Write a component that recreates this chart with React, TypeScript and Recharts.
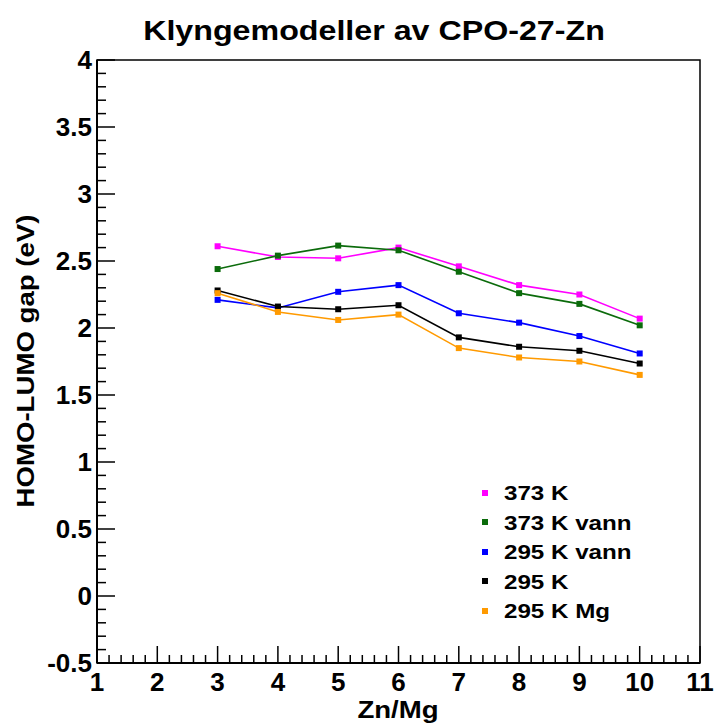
import { LineChart, Line, XAxis, YAxis, ReferenceArea } from 'recharts'

// Zn/Mg ratio for each cluster model
const zn = [3, 4, 5, 6, 7, 8, 9, 10]

// HOMO-LUMO gap (eV)
const k373 = [2.61, 2.53, 2.52, 2.6, 2.46, 2.32, 2.25, 2.07]
const k373vann = [2.44, 2.54, 2.615, 2.58, 2.42, 2.26, 2.18, 2.02]
const k295vann = [2.21, 2.15, 2.27, 2.32, 2.11, 2.04, 1.94, 1.81]
const k295 = [2.28, 2.16, 2.14, 2.17, 1.93, 1.86, 1.83, 1.735]
const k295mg = [2.26, 2.12, 2.06, 2.1, 1.85, 1.78, 1.75, 1.65]

const xTicks = Array.from({ length: 51 }, (_, i) => Math.round((1 + i * 0.2) * 10) / 10)
const yTicks = Array.from({ length: 46 }, (_, i) => Math.round((-0.5 + i * 0.1) * 10) / 10)

const series = [
    { key: 'k373', name: '373 K', color: '#ff00ff', values: k373 },
    { key: 'k373vann', name: '373 K vann', color: '#0b6b0b', values: k373vann },
    { key: 'k295vann', name: '295 K vann', color: '#0000ff', values: k295vann },
    { key: 'k295', name: '295 K', color: '#000000', values: k295 },
    { key: 'k295mg', name: '295 K Mg', color: '#ff9a00', values: k295mg },
]

const data = zn.map((x, i) => {
    const row: any = { zn: x }
    series.forEach(s => { row[s.key] = s.values[i] })
    return row
})

const FONT = '"Liberation Sans", Arial, Helvetica, sans-serif'
const SX = 1.15

const isMajor = (v: number, step: number) => Math.abs(v / step - Math.round(v / step)) < 1e-6

const XTick = ({ x, y, payload }: any) => {
    const v = payload.value
    const major = isMajor(v, 1)
    return (
        <g>
            <line x1={x} x2={x} y1={y} y2={y - (major ? 17 : 8)} stroke="#000" strokeWidth={1.5} />
            {major && (
                <text x={x} y={y + 28} textAnchor="middle" fontSize={26} fontWeight="bold" fontFamily={FONT} fill="#000">
                    {Math.round(v)}
                </text>
            )}
        </g>
    )
}

const YTick = ({ x, y, payload }: any) => {
    const v = payload.value
    const major = isMajor(v, 0.5)
    return (
        <g>
            <line x1={x} x2={x + (major ? 18 : 9)} y1={y} y2={y} stroke="#000" strokeWidth={1.5} />
            {major && (
                <text x={x - 5} y={y} dy="0.36em" textAnchor="end" fontSize={26} fontWeight="bold" fontFamily={FONT} fill="#000">
                    {String(v)}
                </text>
            )}
        </g>
    )
}

const SquareDot = (props: any) => {
    const { cx, cy, stroke, index } = props
    if (cx == null || cy == null) return <g key={index} />
    return <rect key={index} x={cx - 3} y={cy - 3} width={6} height={6} fill={stroke} />
}

const textStyle = {
    position: 'absolute' as const,
    fontFamily: FONT,
    fontWeight: 'bold' as const,
    color: '#000',
    whiteSpace: 'nowrap' as const,
    lineHeight: 1,
}

export default function App() {
    return (
        <div style={{ position: 'absolute', left: 0, top: 0, width: 717, height: 724, background: '#fff' }}>
            <LineChart width={717} height={724} data={data} margin={{ top: 60, right: 17, left: 37, bottom: 31 }}>
                <XAxis
                    dataKey="zn"
                    type="number"
                    domain={[1, 11]}
                    ticks={xTicks}
                    interval={0}
                    height={30}
                    tickSize={0}
                    tickMargin={0}
                    tick={<XTick />}
                    axisLine={{ stroke: '#000', strokeWidth: 2 }}
                    tickLine={false}
                />
                <YAxis
                    type="number"
                    domain={[-0.5, 4]}
                    ticks={yTicks}
                    interval={0}
                    width={60}
                    tickSize={0}
                    tickMargin={0}
                    tick={<YTick />}
                    axisLine={{ stroke: '#000', strokeWidth: 2 }}
                    tickLine={false}
                />
                <ReferenceArea x1={1} x2={11} y1={-0.5} y2={4} fill="none" stroke="#000" strokeWidth={1.5} ifOverflow="visible" />
                {series.map(s => (
                    <Line
                        key={s.key}
                        dataKey={s.key}
                        name={s.name}
                        type="linear"
                        stroke={s.color}
                        strokeWidth={1.6}
                        dot={SquareDot}
                        activeDot={false}
                        isAnimationActive={false}
                    />
                ))}
            </LineChart>

            {/* Title */}
            <div style={{ ...textStyle, left: 374, top: 17, fontSize: 28, transform: `translateX(-50%) scaleX(${SX})` }}>
                Klyngemodeller av CPO-27-Zn
            </div>

            {/* Axis titles */}
            <div style={{ ...textStyle, left: 398, top: 698, fontSize: 24, transform: `translateX(-50%) scaleX(${SX})` }}>
                Zn/Mg
            </div>
            <div style={{ ...textStyle, left: 26, top: 361, fontSize: 24, transform: `translate(-50%, -50%) rotate(-90deg) scaleX(${SX})` }}>
                HOMO-LUMO gap (eV)
            </div>

            {/* Legend */}
            <div style={{ position: 'absolute', left: 482, top: 478 }}>
                {series.map(s => (
                    <div key={s.key} style={{ display: 'flex', alignItems: 'center', height: 29.5 }}>
                        <span style={{ width: 6, height: 6, background: s.color, display: 'inline-block' }} />
                        <span style={{ ...textStyle, position: 'static', fontSize: 21, marginLeft: 16, transform: `scaleX(${SX})`, transformOrigin: 'left center' }}>
                            {s.name}
                        </span>
                    </div>
                ))}
            </div>
        </div>
    )
}
